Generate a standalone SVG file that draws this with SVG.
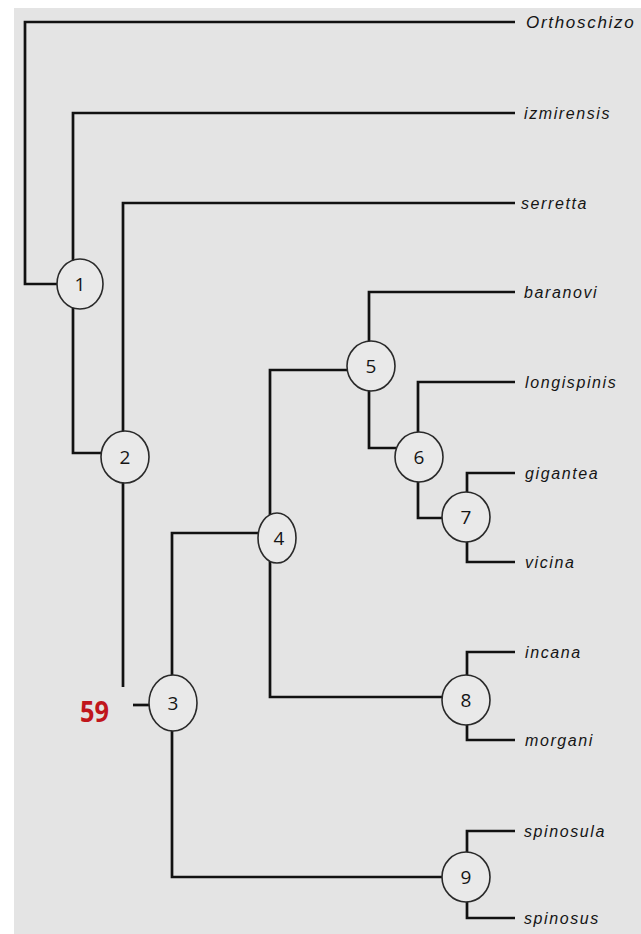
<svg xmlns="http://www.w3.org/2000/svg" width="641" height="934" viewBox="0 0 641 934">
<style>
.bg{fill:#e4e4e4}
.ln{fill:none;stroke:#111;stroke-width:2.7;stroke-linejoin:miter;stroke-linecap:butt}
.nd ellipse{fill:#e9e9e9;stroke:#2a2a2a;stroke-width:1.6}
.nd text{font-family:"Open Sans","Liberation Sans",sans-serif;font-size:19px;fill:#151515;text-anchor:middle}
.lb{font-family:"Liberation Sans",Arial,sans-serif;font-style:italic;font-size:16px;letter-spacing:1.6px;fill:#151515}
.red{font-family:"Open Sans","Liberation Sans",sans-serif;font-weight:bold;font-size:29px;fill:#c0161c}
</style>
<rect width="641" height="934" fill="#fff"/>
<rect class="bg" x="14" y="8" width="627" height="926"/>
<g id="connectors" class="ln">
<path d="M515,22 H25 V284 H58"/>
<path d="M515,113 H73 V453 H102"/>
<path d="M515,203 H123 V687"/>
<path d="M133,705 H150"/>
<path d="M258,533 H172 V877 H444"/>
<path d="M348,370 H270 V697 H444"/>
<path d="M515,292 H369 V448 H396"/>
<path d="M515,382 H418 V518 H443"/>
<path d="M515,473 H467 V562 H515"/>
<path d="M515,652 H467 V740 H515"/>
<path d="M515,831 H467 V918 H515"/>
</g>
<g id="node1" class="nd"><ellipse cx="80" cy="284" rx="23" ry="25"/><text x="80" y="291">1</text></g>
<g id="node2" class="nd"><ellipse cx="125" cy="457" rx="24" ry="26"/><text x="125" y="464">2</text></g>
<g id="node3" class="nd"><ellipse cx="173" cy="703" rx="24" ry="28"/><text x="173" y="710">3</text></g>
<g id="node4" class="nd"><ellipse cx="277" cy="538" rx="19" ry="25"/><text x="279" y="545">4</text></g>
<g id="node5" class="nd"><ellipse cx="371" cy="366" rx="24" ry="25"/><text x="371" y="373">5</text></g>
<g id="node6" class="nd"><ellipse cx="419" cy="457" rx="24" ry="25"/><text x="419" y="464">6</text></g>
<g id="node7" class="nd"><ellipse cx="466" cy="517" rx="24" ry="25"/><text x="466" y="524">7</text></g>
<g id="node8" class="nd"><ellipse cx="466" cy="700" rx="24" ry="25"/><text x="466" y="707">8</text></g>
<g id="node9" class="nd"><ellipse cx="466" cy="877" rx="24" ry="25"/><text x="466" y="884">9</text></g>
<g id="labels">
<text class="lb" x="526" y="28" style="font-size:17px;letter-spacing:1.7px">Orthoschizo</text>
<text class="lb" x="524" y="119">izmirensis</text>
<text class="lb" x="521" y="209">serretta</text>
<text class="lb" x="524" y="298">baranovi</text>
<text class="lb" x="525" y="388">longispinis</text>
<text class="lb" x="525" y="479">gigantea</text>
<text class="lb" x="525" y="568">vicina</text>
<text class="lb" x="525" y="658">incana</text>
<text class="lb" x="525" y="746">morgani</text>
<text class="lb" x="524" y="837">spinosula</text>
<text class="lb" x="524" y="924">spinosus</text>
<text class="red" x="80" y="722" textLength="29" lengthAdjust="spacingAndGlyphs">59</text>
</g>
</svg>
